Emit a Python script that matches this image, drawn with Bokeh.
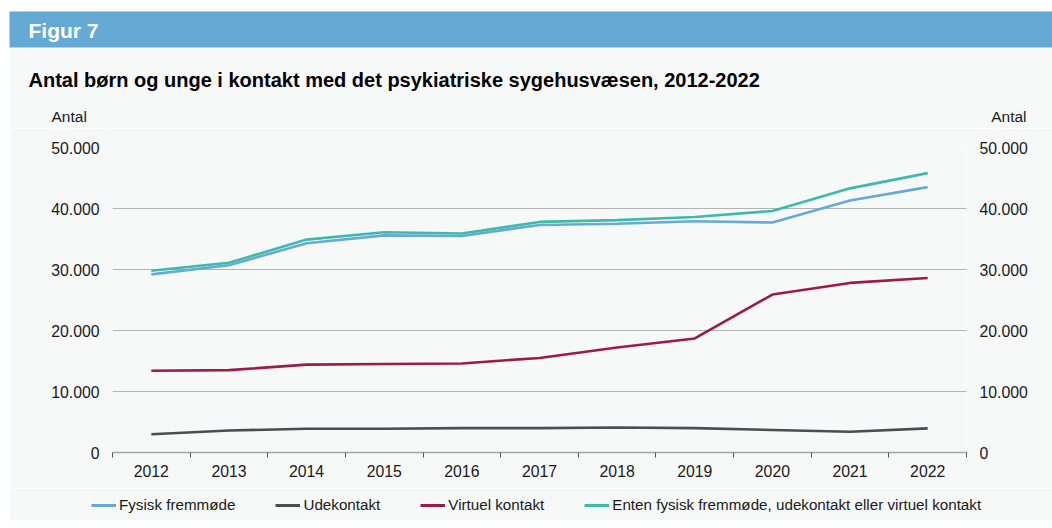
from bokeh.plotting import figure
from bokeh.models import FixedTicker, LinearAxis, Legend, LegendItem, Range1d
from bokeh.core.properties import value
from bokeh.embed import file_html
from bokeh.resources import INLINE

years = ["2012", "2013", "2014", "2015", "2016", "2017", "2018", "2019", "2020", "2021", "2022"]
fysisk = [29200, 30700, 34300, 35600, 35500, 37300, 37500, 37900, 37700, 41300, 43500]
udekontakt = [3000, 3600, 3900, 3900, 4000, 4000, 4100, 4000, 3700, 3400, 3950]
virtuel = [13400, 13500, 14400, 14500, 14600, 15500, 17200, 18700, 25900, 27800, 28600]
enten = [29800, 31100, 34900, 36100, 35900, 37800, 38100, 38600, 39600, 43300, 45800]
y_ticks = [0, 10000, 20000, 30000, 40000, 50000]
y_tick_labels = ["0", "10.000", "20.000", "30.000", "40.000", "50.000"]

series_names = ["Fysisk fremmøde", "Udekontakt", "Virtuel kontakt",
                "Enten fysisk fremmøde, udekontakt eller virtuel kontakt"]
colors = ["#66a9db", "#4b4d52", "#9c1c48", "#3dbba8"]
series = [fysisk, udekontakt, virtuel, enten]

FONT = "Liberation Sans"
BG = "#f7f9f9"
HEADER = "#65aad5"
TXT = "#1a1a1a"
W = 1052
LM = 9  # white strip on the left of the page

xs = [i + 0.5 for i in range(len(years))]

def blank(height, y0, y1):
    f = figure(width=W, height=height, output_backend="svg", toolbar_location=None,
               x_range=Range1d(0, W), y_range=Range1d(y1, y0),
               x_axis_location=None, y_axis_location=None, min_border=0,
               background_fill_color="white", border_fill_color="white", outline_line_color=None)
    f.grid.visible = False
    return f

# ---------- top block: header bar, title, "Antal" labels (page-pixel coordinates) ----------
top = blank(128, 0, 128)
top.quad(left=[LM], right=[W], top=[47], bottom=[128], fill_color=BG, line_color=None)
top.quad(left=[LM], right=[W], top=[11], bottom=[47], fill_color=HEADER, line_color=None)
top.text(x=[28], y=[30], text=["Figur 7"], text_font=value(FONT), text_font_style="bold",
         text_font_size="21px", text_color="white", text_baseline="middle")
top.text(x=[28], y=[79], text=["Antal børn og unge i kontakt med det psykiatriske sygehusvæsen, 2012-2022"],
         text_font=value(FONT), text_font_style="bold", text_font_size="20px", text_color="black",
         text_baseline="middle")
top.text(x=[51], y=[116], text=["Antal"], text_font=value(FONT), text_font_size="15.5px",
         text_color=TXT, text_baseline="middle")
top.text(x=[1026], y=[116], text=["Antal"], text_font=value(FONT), text_font_size="15.5px",
         text_color=TXT, text_baseline="middle", text_align="right")

# ---------- main chart ----------
p = figure(width=W - LM, height=360, output_backend="svg", toolbar_location=None,
           x_range=Range1d(0, len(years)), y_range=Range1d(0, 50000),
           min_border_left=112 - LM, min_border_right=86, min_border_top=19, min_border_bottom=36,
           background_fill_color=BG, border_fill_color=BG, outline_line_color=None,
           margin=(0, 0, 0, LM))

for vals, col in zip(series, colors):
    p.line(xs, vals, line_color=col, line_width=2.6)

xa = p.xaxis[0]
xa.ticker = FixedTicker(ticks=xs, minor_ticks=list(range(len(years) + 1)))
xa.major_label_overrides = {x: y for x, y in zip(xs, years)}
xa.major_tick_in = 0
xa.major_tick_out = 0
xa.minor_tick_in = 0
xa.minor_tick_out = 5
xa.minor_tick_line_color = "#555555"
xa.axis_line_color = "#a6a6a6"
xa.axis_line_width = 1.5
xa.major_label_standoff = 7
xa.major_label_text_font = FONT
xa.major_label_text_font_size = "15.8px"
xa.major_label_text_color = TXT

p.xgrid.visible = False
p.ygrid.ticker = FixedTicker(ticks=y_ticks)
p.ygrid.grid_line_color = "#b3b3b3"
p.ygrid.grid_line_width = 1.2

def style_y(ax):
    ax.ticker = FixedTicker(ticks=y_ticks)
    ax.major_label_overrides = {t: l for t, l in zip(y_ticks, y_tick_labels)}
    ax.axis_line_color = None
    ax.major_tick_line_color = None
    ax.minor_tick_line_color = None
    ax.major_tick_out = 0
    ax.major_tick_in = 0
    ax.major_label_standoff = 13
    ax.major_label_text_font = FONT
    ax.major_label_text_font_size = "15.8px"
    ax.major_label_text_color = TXT

style_y(p.yaxis[0])
ra = LinearAxis()
style_y(ra)
p.add_layout(ra, "right")

# ---------- legend block ----------
lg = blank(40, 488, 528)
lg.quad(left=[LM], right=[W], top=[488], bottom=[520], fill_color=BG, line_color=None)
items = []
for name, vals, col in zip(series_names, series, colors):
    r = lg.line(xs, vals, line_color=col, line_width=3, visible=False)
    items.append(LegendItem(label=name, renderers=[r]))
legend = Legend(items=items, orientation="horizontal", location=(91, 15),
                background_fill_alpha=0, border_line_color=None,
                glyph_width=25, glyph_height=16, label_height=16, label_standoff=3, spacing=40,
                padding=0, margin=0,
                label_text_font=FONT, label_text_font_size="15.2px", label_text_color=TXT)
lg.add_layout(legend, "center")

open("out.html", "w").write(file_html([top, p, lg], INLINE))
